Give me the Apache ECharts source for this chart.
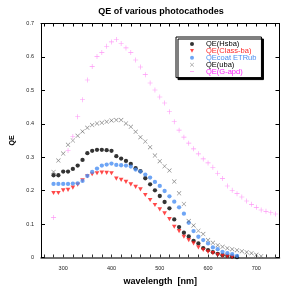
<!DOCTYPE html>
<html><head><meta charset="utf-8">
<script src="https://cdn.jsdelivr.net/npm/echarts@6/dist/echarts.min.js"></script>
<style>html,body{margin:0;padding:0;background:#fff}#c{width:291px;height:291px}</style>
</head><body><div id="c"></div>
<script>
const xLabelValues = [300, 400, 500, 600, 700];
const xTickValues = [260,280,300,320,340,360,380,400,420,440,460,480,500,520,540,560,580,600,620,640,660,680,700,720,740];

const wlHsba = [280,290,300,310,320,330,340,350,360,370,380,390,400,410,420,430,440,450,460,470,480,490,500,510,520,530,540,550,560,570,580,590,600,610,620,630,640,650,660];
const qeHsba = [0.246,0.246,0.257,0.257,0.265,0.275,0.292,0.312,0.319,0.322,0.322,0.321,0.319,0.303,0.296,0.289,0.280,0.267,0.258,0.237,0.219,0.201,0.184,0.166,0.147,0.114,0.091,0.074,0.063,0.050,0.042,0.028,0.022,0.016,0.011,0.007,0.005,0.003,0.001];

const wlClass = [280,290,300,310,320,330,340,350,360,370,380,390,400,410,420,430,440,450,460,470,480,490,500,510,520,530,540,550,560,570,580,590,600,610,620,630,640,650];
const qeClass = [0.193,0.193,0.201,0.202,0.209,0.218,0.231,0.243,0.249,0.252,0.254,0.253,0.252,0.236,0.232,0.226,0.219,0.211,0.204,0.187,0.172,0.157,0.144,0.132,0.115,0.092,0.079,0.062,0.052,0.042,0.030,0.023,0.017,0.013,0.008,0.005,0.003,0.001];

const wlCoat = [280,290,300,310,320,330,340,350,360,370,380,390,400,410,420,430,440,450,460,470,480,490,500,510,520,530,540,550,560,570,580,590,600,610,620,630,640,650,660];
const qeCoat = [0.220,0.220,0.220,0.220,0.221,0.222,0.229,0.244,0.256,0.266,0.275,0.278,0.281,0.277,0.276,0.275,0.272,0.263,0.257,0.248,0.239,0.226,0.214,0.199,0.183,0.167,0.150,0.131,0.104,0.079,0.062,0.052,0.042,0.030,0.025,0.017,0.013,0.010,0.005];

const wlUba = [280,290,300,310,320,330,340,350,360,370,380,390,400,410,420,430,440,450,460,470,480,490,500,510,520,530,540,550,560,570,580,590,600,610,620,630,640,650,660,670,680,690,700,710];
const qeUba = [0.256,0.290,0.311,0.337,0.350,0.364,0.377,0.388,0.396,0.401,0.403,0.406,0.410,0.411,0.411,0.401,0.391,0.376,0.360,0.347,0.330,0.305,0.288,0.273,0.260,0.227,0.192,0.160,0.109,0.096,0.080,0.070,0.052,0.044,0.037,0.032,0.028,0.025,0.022,0.019,0.016,0.013,0.008,0.004];

const wlApd = [280,310,320,330,340,350,360,370,380,390,400,410,420,430,440,450,460,470,480,490,500,510,520,530,540,550,560,570,580,590,600,610,620,630,640,650,660,670,680,690,700,710,720,730,740];
const qeApd = [0.120,0.320,0.362,0.421,0.472,0.531,0.571,0.601,0.613,0.632,0.645,0.652,0.640,0.627,0.613,0.591,0.570,0.547,0.522,0.501,0.480,0.462,0.436,0.406,0.381,0.360,0.342,0.325,0.310,0.295,0.283,0.270,0.252,0.236,0.214,0.201,0.191,0.181,0.169,0.159,0.150,0.142,0.138,0.134,0.130];

const zip = (a, b) => a.map((v, i) => [v, b[i]]);
const PLUS = 'path://M0,4.4H10V5.6H0Z M4.4,0H5.6V10H4.4Z';
const CROSS = 'path://M0,0.8L0.8,0L10,9.2L9.2,10Z M9.2,0L10,0.8L0.8,10L0,9.2Z';
const DASH = 'path://M0,4.3H10V5.7H0Z M0,0h0.05v0.05h-0.05Z M9.95,9.95h0.05v0.05h-0.05Z';
const TRI_DOWN = 'path://M0,0H10L5,9Z';

const chart = echarts.init(document.getElementById('c'), null, {renderer: 'canvas'});
const font = 'Liberation Sans, Arial, Helvetica, sans-serif';
chart.setOption({
  animation: false,
  backgroundColor: '#fff',
  textStyle: {fontFamily: font},
  title: {
    text: 'QE of various photocathodes', left: 156, top: 2, textAlign: 'center',
    textStyle: {fontSize: 9, fontWeight: 'bold', color: '#000', fontFamily: font}
  },
  grid: {left: 41, top: 23.5, right: 11.5, bottom: 30, containLabel: false},
  xAxis: [{
    type: 'value', min: 254, max: 748, position: 'bottom',
    name: 'wavelength  [nm]', nameLocation: 'middle', nameGap: 19.5,
    nameTextStyle: {fontSize: 9, fontWeight: 'bold', color: '#000', fontFamily: font},
    axisLine: {show: true, onZero: false, lineStyle: {color: '#444', width: 1.5}},
    axisTick: {show: true, inside: true, length: 3, customValues: xTickValues, lineStyle: {color: '#333', width: 1}},
    axisLabel: {show: true, customValues: xLabelValues, fontSize: 5.5, color: '#222', margin: 8, fontFamily: font},
    splitLine: {show: false}
  }, {
    type: 'value', min: 254, max: 748, position: 'top',
    axisLine: {show: true, onZero: false, lineStyle: {color: '#000', width: 1}},
    axisTick: {show: true, inside: true, length: 3, customValues: xTickValues, lineStyle: {color: '#000', width: 1}},
    axisLabel: {show: false}, splitLine: {show: false}
  }],
  yAxis: [{
    type: 'value', min: 0, max: 0.7, interval: 0.1, position: 'left',
    name: 'QE', nameLocation: 'middle', nameGap: 24, nameRotate: 90,
    nameTextStyle: {fontSize: 7, fontWeight: 'bold', color: '#000', fontFamily: font},
    axisLine: {show: true, onZero: false, lineStyle: {color: '#000', width: 1}},
    axisTick: {show: true, inside: true, length: 4, lineStyle: {color: '#000'}},
    axisLabel: {fontSize: 5.5, color: '#222', margin: 7, fontFamily: font,
      formatter: v => v === 0 ? '0' : v.toFixed(1)},
    splitLine: {show: false}
  }, {
    type: 'value', min: 0, max: 0.7, interval: 0.1, position: 'right',
    axisLine: {show: true, onZero: false, lineStyle: {color: '#000', width: 1}},
    axisTick: {show: true, inside: true, length: 4, lineStyle: {color: '#000'}},
    axisLabel: {show: false}, splitLine: {show: false}
  }],
  legend: {
    orient: 'vertical', left: 176, top: 37,
    padding: [3, 5, 2, 14], itemWidth: 4, itemHeight: 4, itemGap: -1.1,
    backgroundColor: '#fff', borderColor: '#000', borderWidth: 1,
    shadowColor: '#000', shadowBlur: 0, shadowOffsetX: 2, shadowOffsetY: 2,
    selectedMode: false, symbolKeepAspect: true,
    textStyle: {fontSize: 7.5, lineHeight: 6.4, fontFamily: font, padding: [0, 0, 0, 7]},
    data: [
      {name: 'QE(Hsba)', icon: 'circle', textStyle: {color: '#000'}},
      {name: 'QE(Class-ba)', icon: TRI_DOWN, textStyle: {color: '#ff2a2a'}},
      {name: 'QEcoat ETRub', icon: 'circle', textStyle: {color: '#4d8ff0'}},
      {name: 'QE(uba)', icon: CROSS, textStyle: {color: '#000'}},
      {name: 'QE(G-apd)', icon: DASH, textStyle: {color: '#ff22ff'}}
    ]
  },
  series: [
    {name: 'QE(Hsba)', type: 'scatter', data: zip(wlHsba, qeHsba), symbol: 'circle', symbolSize: 4.3,
      itemStyle: {color: '#000'}},
    {name: 'QE(Class-ba)', type: 'scatter', data: zip(wlClass, qeClass), symbol: TRI_DOWN, symbolSize: [4.6, 4.2],
      itemStyle: {color: '#ff1a1a'}},
    {name: 'QEcoat ETRub', type: 'scatter', data: zip(wlCoat, qeCoat), symbol: 'circle', symbolSize: 4.3,
      itemStyle: {color: '#4a8ff2'}},
    {name: 'QE(uba)', type: 'scatter', data: zip(wlUba, qeUba), symbol: CROSS, symbolSize: 4.5,
      itemStyle: {color: '#555'}},
    {name: 'QE(G-apd)', type: 'scatter', data: zip(wlApd, qeApd), symbol: PLUS, symbolSize: 5,
      itemStyle: {color: '#ff7cf4'}}
  ]
});
</script></body></html>
